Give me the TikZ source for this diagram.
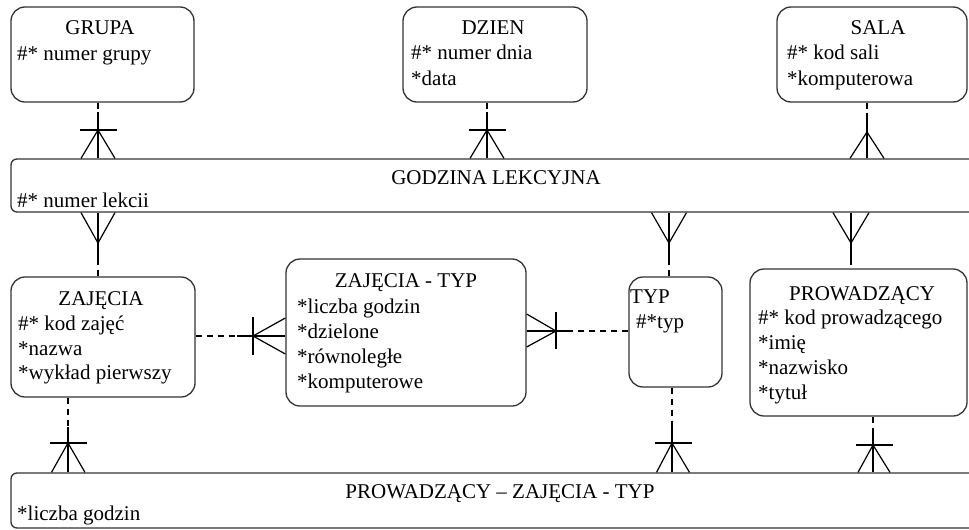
\documentclass[tikz,border=0pt]{standalone}
\usepackage{fontspec}
\setmainfont{Liberation Serif}
\usetikzlibrary{calc}
\begin{document}
\begin{tikzpicture}[x=1pt,y=-1pt,
  entity/.style={draw=black!80, line width=1.3pt, rounded corners=14pt, inner sep=0pt},
  band/.style={draw=black!80, line width=1.3pt, rounded corners=6pt, inner sep=0pt},
  lbl/.style={inner sep=0pt, anchor=base west, font=\fontsize{21}{25}\selectfont},
  ttl/.style={inner sep=0pt, anchor=base, font=\fontsize{21}{25}\selectfont},
  rel/.style={line width=1.2pt, black},
  opt/.style={rel, dash pattern=on 6pt off 5pt},
]
\clip (0,0) rectangle (969,530);
\fill[white] (0,0) rectangle (969,530);

% ---------- entities ----------
\node[entity, minimum width=183pt, minimum height=95pt] (grupa) at (102.5,54.5) {};
\node[entity, minimum width=184pt, minimum height=95pt] (dzien) at (495,54.5) {};
\node[entity, minimum width=190pt, minimum height=95pt] (sala) at (872,54.5) {};
\node[band, minimum width=999pt, minimum height=53pt] (godz) at (510.5,185.5) {};
\node[entity, minimum width=184pt, minimum height=120pt] (zaj) at (103,337) {};
\node[entity, minimum width=240pt, minimum height=147pt] (zt) at (406,332.5) {};
\node[entity, minimum width=93pt, minimum height=110pt] (typ) at (675.5,332) {};
\node[entity, minimum width=217pt, minimum height=147pt] (prow) at (858.5,342.5) {};
\node[band, minimum width=999pt, minimum height=55pt] (pzt) at (510.5,500.5) {};

% ---------- texts ----------
\node[ttl] (tgrupa) at (100,34) {GRUPA};
\node[lbl] (agrupa1) at (17,60) {\#* numer grupy};

\node[ttl] (tdzien) at (493,34) {DZIEN};
\node[lbl] (adzien1) at (411,59) {\#* numer dnia};
\node[lbl] (adzien2) at (411,85) {*data};

\node[ttl] (tsala) at (878,34) {SALA};
\node[lbl] (asala1) at (787,59) {\#* kod sali};
\node[lbl] (asala2) at (787,85) {*komputerowa};

\node[ttl] (tgodz) at (496,184) {GODZINA LEKCYJNA};
\node[lbl] (agodz1) at (17,207) {\#* numer lekcii};

\node[ttl] (tzaj) at (101,305) {ZAJĘCIA};
\node[lbl] (azaj1) at (18,330) {\#* kod zajęć};
\node[lbl] (azaj2) at (18,355) {*nazwa};
\node[lbl] (azaj3) at (18,379) {*wykład pierwszy};

\node[ttl] (tzt) at (406,287) {ZAJĘCIA - TYP};
\node[lbl] (azt1) at (297,313) {*liczba godzin};
\node[lbl] (azt2) at (297,338) {*dzielone};
\node[lbl] (azt3) at (297,363) {*równoległe};
\node[lbl] (azt4) at (297,388) {*komputerowe};

\node[ttl] (ttyp) at (650,303) {TYP};
\node[lbl] (atyp1) at (636,328) {\#*typ};

\node[ttl] (tprow) at (862,300) {PROWADZĄCY};
\node[lbl] (aprow1) at (758,324) {\#* kod prowadzącego};
\node[lbl] (aprow2) at (758,349) {*imię};
\node[lbl] (aprow3) at (758,374) {*nazwisko};
\node[lbl] (aprow4) at (758,399) {*tytuł};

\node[ttl] (tpzt) at (500,498) {PROWADZĄCY – ZAJĘCIA - TYP};
\node[lbl] (apzt1) at (17,520) {*liczba godzin};

% ---------- relationships: upper entities -> GODZINA LEKCYJNA ----------
% GRUPA
\coordinate (k1) at (98,112);
\coordinate (b1) at (98,130);
\draw[opt] (grupa.south -| k1) -- (k1);
\draw[rel] (k1) -- (godz.north -| k1);
\draw[rel] ($(b1)+(-18.5,0)$) -- ($(b1)+(18.5,0)$);
\draw[rel] ($(godz.north -| b1)+(-17,0)$) -- (b1) -- ($(godz.north -| b1)+(17,0)$);

% DZIEN
\coordinate (k2) at (487,112);
\coordinate (b2) at (487,130);
\draw[opt] (dzien.south -| k2) -- (k2);
\draw[rel] (k2) -- (godz.north -| k2);
\draw[rel] ($(b2)+(-18.5,0)$) -- ($(b2)+(18.5,0)$);
\draw[rel] ($(godz.north -| b2)+(-17,0)$) -- (b2) -- ($(godz.north -| b2)+(17,0)$);

% SALA
\coordinate (k3) at (867,113);
\coordinate (b3) at (867,132);
\draw[opt] (sala.south -| k3) -- (k3);
\draw[rel] (k3) -- (godz.north -| k3);
\draw[rel] ($(godz.north -| b3)+(-17,0)$) -- (b3) -- ($(godz.north -| b3)+(17,0)$);

% ---------- GODZINA LEKCYJNA -> middle entities ----------
% ZAJECIA
\coordinate (k4) at (98,262);
\coordinate (b4) at (98,243);
\draw[rel] (godz.south -| k4) -- (k4);
\draw[opt] (zaj.north -| k4) -- (k4);
\draw[rel] ($(godz.south -| b4)+(-17,0)$) -- (b4) -- ($(godz.south -| b4)+(17,0)$);

% TYP
\coordinate (k5) at (669,264);
\coordinate (b5) at (669,243);
\draw[rel] (godz.south -| k5) -- (k5);
\draw[opt] (typ.north -| k5) -- (k5);
\draw[rel] ($(godz.south -| b5)+(-17.5,0)$) -- (b5) -- ($(godz.south -| b5)+(17.5,0)$);

% PROWADZACY
\coordinate (k6) at (851,265);
\coordinate (b6) at (851,243);
\draw[rel] (godz.south -| k6) -- (k6);
\draw[opt, dash phase=6pt] (prow.north -| k6) -- (k6);
\draw[rel] ($(godz.south -| b6)+(-18,0)$) -- (b6) -- ($(godz.south -| b6)+(18,0)$);

% ---------- horizontal relationships ----------
% ZAJECIA -> ZAJECIA - TYP
\coordinate (k7) at (237,336);
\coordinate (b7) at (253,336);
\draw[opt] (zaj.east |- k7) -- (k7);
\draw[rel] (k7) -- (zt.west |- k7);
\draw[rel] ($(b7)+(0,-19)$) -- ($(b7)+(0,19)$);
\draw[rel] ($(zt.west |- b7)+(0,-18)$) -- (b7) -- ($(zt.west |- b7)+(0,18)$);

% ZAJECIA - TYP -> TYP
\coordinate (k8) at (572,331);
\coordinate (b8) at (556,331);
\draw[rel] (zt.east |- k8) -- (k8);
\draw[opt] (typ.west |- k8) -- (k8);
\draw[rel] ($(b8)+(0,-19)$) -- ($(b8)+(0,18)$);
\draw[rel] ($(zt.east |- b8)+(0,-17)$) -- (b8) -- ($(zt.east |- b8)+(0,16)$);

% ---------- middle entities -> PROWADZACY - ZAJECIA - TYP ----------
% ZAJECIA
\coordinate (k9) at (68,427);
\coordinate (b9) at (68,443);
\draw[opt] (zaj.south -| k9) -- (k9);
\draw[rel] (k9) -- (pzt.north -| k9);
\draw[rel] ($(b9)+(-18.5,0)$) -- ($(b9)+(19,0)$);
\draw[rel] ($(pzt.north -| b9)+(-16.5,0)$) -- (b9) -- ($(pzt.north -| b9)+(17,0)$);

% TYP
\coordinate (k10) at (672,427);
\coordinate (b10) at (672,443);
\draw[opt] (typ.south -| k10) -- (k10);
\draw[rel] (k10) -- (pzt.north -| k10);
\draw[rel] ($(b10)+(-17.5,0)$) -- ($(b10)+(19.5,0)$);
\draw[rel] ($(pzt.north -| b10)+(-15.5,0)$) -- (b10) -- ($(pzt.north -| b10)+(17.5,0)$);

% PROWADZACY
\coordinate (k11) at (873,430);
\coordinate (b11) at (873,445);
\draw[opt] (prow.south -| k11) -- (k11);
\draw[rel] (k11) -- (pzt.north -| k11);
\draw[rel] ($(b11)+(-17.5,0)$) -- ($(b11)+(19.5,0)$);
\draw[rel] ($(pzt.north -| b11)+(-15,0)$) -- (b11) -- ($(pzt.north -| b11)+(17,0)$);
\end{tikzpicture}
\end{document}
